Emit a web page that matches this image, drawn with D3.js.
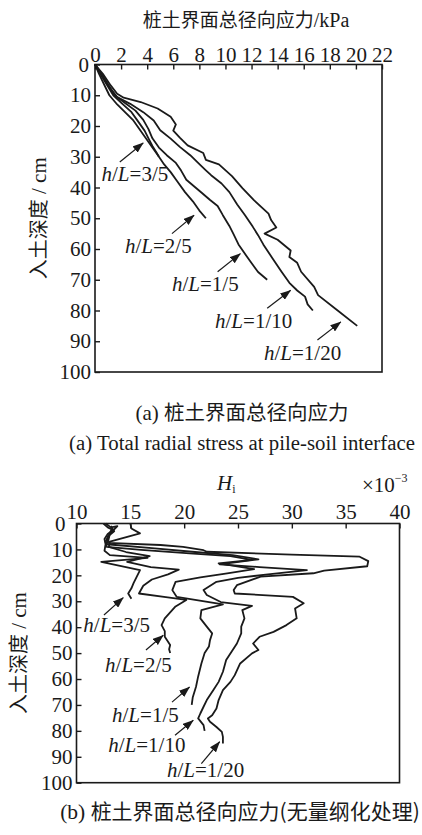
<!DOCTYPE html>
<html>
<head>
<meta charset="utf-8">
<script src="https://cdn.jsdelivr.net/npm/d3@7"></script>
<style>
body { margin: 0; background: #fff; }
text { font-family: "Liberation Serif", "Times New Roman", serif; fill: #1a1a1a; }
.cjk { font-family: "Noto Sans CJK SC", sans-serif; }
</style>
</head>
<body>
<svg id="fig" width="422" height="835"></svg>
<script>
// h/L ratios, same order for both panels
var ratioNames = ["3/5", "2/5", "1/5", "1/10", "1/20"];

var stressTicks = [0, 2, 4, 6, 8, 10, 12, 14, 16, 18, 20, 22];
var depthTicks = [0, 10, 20, 30, 40, 50, 60, 70, 80, 90, 100];
var hiTicks = [10, 15, 20, 25, 30, 35, 40];

// (a) total radial stress, kPa  -> [stress, depth cm]
var stress35 = [[0,0],[0.4,3],[0.9,6.5],[1.4,10],[2.1,12.8],[2.8,15.5],[3.3,18.5],[3.8,21.5],[4.1,24],[4.4,26.5],[4.7,28.5],[4.9,30]];
var stress25 = [[0,0],[0.3,3],[0.7,6.5],[1.1,10],[1.7,13],[2.3,15.5],[2.9,18],[3.4,21],[3.9,24],[4.4,27],[4.9,30],[5.3,32.5],[5.8,35],[6.3,38],[6.9,41.5],[7.5,44.5],[8.0,47.5],[8.5,50]];
var stress15 = [[0,0],[0.5,3],[1.0,6.5],[1.5,10],[2.3,12.5],[3.1,15],[3.7,18],[4.1,21],[4.4,24],[4.9,27],[5.5,29.5],[6.2,32],[6.6,34.5],[7.0,37.5],[7.7,40],[8.2,41.8],[8.8,44],[9.4,46],[9.8,49],[10.3,52.5],[10.6,55],[11.0,58.5],[11.4,61],[11.9,64],[12.5,67.5],[13.2,70]];
var stress110 = [[0,0],[0.4,2.5],[1.0,6.8],[1.7,10.6],[2.7,12.8],[3.7,15.5],[4.5,18.2],[5.0,21.4],[5.8,24.1],[6.5,26.8],[7.3,29.5],[8.1,32.8],[8.5,34.4],[8.9,36],[9.7,38.7],[10.3,41.5],[10.9,45.5],[11.5,49],[12.1,52.8],[12.5,55.5],[12.9,58.5],[13.6,63],[14.3,67.4],[14.9,71],[15.5,73.5],[16.1,75.5],[16.3,78],[16.7,80]];
var stress120 = [[0,0],[0.6,3],[1.2,6.8],[1.7,9.5],[2.2,10.8],[3.5,12.2],[4.8,14.3],[5.8,17],[6.2,19.5],[6.0,21.5],[6.5,23.8],[7.1,26.3],[8.3,28.8],[8.5,31],[9.5,32.5],[10.5,36.3],[11.3,40.2],[12.2,44.2],[13.3,48.5],[13.5,50.6],[13.9,53],[13.0,55],[14.0,57],[15.0,60.5],[14.9,62.6],[15.5,64.5],[15.8,67.4],[16.8,72.3],[17.1,75],[18.6,80],[20.1,85]];

// (b) dimensionless H_i (x10^-3) -> [Hi, depth cm]
var hi35 = [[12.5,0],[12.9,1.5],[13.4,2.5],[12.9,4],[12.6,6],[12.7,8],[12.6,10.5],[13.1,12.2],[16.6,13.3],[12.3,14.8],[15.9,18],[15.6,20.5],[15.3,23],[15.1,25],[14.8,27],[15.1,29]];
var hi25 = [[15.0,0],[15.1,1.9],[15.9,3.8],[14.8,5.1],[13.1,7],[13.0,9],[14.6,11],[16.8,12.6],[14.7,14.8],[16.9,16.8],[19.5,17.8],[18.5,19.6],[17.0,21.6],[16.2,24],[15.8,27],[18.3,28.4],[20.2,29.5],[19.2,32],[18.2,36.6],[17.9,39.2],[18.2,41.5],[18.2,43.7],[18.7,46.9],[18.6,48.5],[18.7,50]];
var hi15 = [[13.3,2],[13.0,4.5],[12.7,7],[12.8,9],[16,10.2],[20.5,11.5],[24.3,12.6],[26.3,14],[23.2,15.4],[26.5,17.6],[24.0,19.2],[21.5,20.8],[19.2,22.5],[18.9,25.7],[19.3,28.3],[23.6,31.2],[21.6,33.4],[21.5,36.6],[22.1,39.8],[22.6,42.4],[22.4,45],[22.3,47.5],[21.9,50],[21.6,54],[21.3,59],[21.1,63],[20.8,67],[20.7,70]];
var hi110 = [[13.2,1],[13.5,3],[12.9,5],[12.8,8],[17,9.5],[21,11],[24.5,12.2],[26.9,13.8],[23.3,15.8],[27.0,16.8],[31.4,18],[28.0,19.5],[25.0,21],[23.0,22.5],[21.8,25.7],[22.1,27.6],[23.4,30.3],[26.3,31.8],[25.4,33.4],[25.6,36.6],[25.3,39.8],[25.3,42.4],[24.9,46.3],[24.4,49.5],[23.9,52.7],[23.6,57.2],[23.2,61.1],[22.7,64.3],[22.1,68.1],[21.8,70.7],[21.5,73.3],[21.3,75.2],[21.8,77.8],[21.9,80]];
var hi120 = [[12.7,0],[13.2,1.5],[13.8,1],[13.1,4],[12.9,7.5],[17.8,8.3],[19.9,9.0],[21.8,10.3],[22.1,10.9],[30,12],[36.3,12.8],[37.1,14.5],[37.0,16.5],[33,18.2],[32.0,19.2],[27.1,20.5],[24.9,23.8],[24.6,25.7],[24.7,27],[30.1,28.3],[31.1,30.8],[30.3,32.8],[30.45,36.6],[29.5,39.2],[28.3,41.8],[27.0,43.7],[26.4,46.3],[26.9,48.8],[26.3,50.1],[25.2,54],[24.7,58.5],[24.3,61.1],[23.6,64.3],[23.2,68.1],[23.0,71.4],[22.6,74],[22.2,75.2],[22.4,76.5],[23.0,78.5],[23.5,80.4],[23.6,82.3],[23.6,84.9]];

// where the h/L labels sit, in data units: text corner, arrow tail, arrow tip
var labelsA = [
  { t: [0.5, 38.0],  a: [1.9, 31.7],  b: [3.7, 25.5] },
  { t: [2.3, 61.4],  a: [5.9, 55.0],  b: [7.6, 49.0] },
  { t: [5.9, 73.7],  a: [9.4, 67.4],  b: [11.15, 61.5] },
  { t: [9.2, 85.7],  a: [13.2, 79.3], b: [15.0, 73.4] },
  { t: [12.95, 96.1],a: [17.05, 89.6],b: [18.85, 83.7] }
];
var labelsB = [
  { t: [10.63, 41.9], a: [12.55, 35.3], b: [14.35, 28.6] },
  { t: [12.65, 57.3], a: [16.45, 48.8], b: [18.06, 43.1] },
  { t: [13.3, 76.6],  a: [18.87, 68.9], b: [20.5, 63.1] },
  { t: [12.95, 88.2], a: [19.15, 81.7], b: [20.85, 75.9] },
  { t: [18.4, 97.9],  a: [21.6, 92.6],  b: [23.3, 84.2] }
];

var ink = "#1a1a1a";
var svg = d3.select("#fig");

svg.append("defs").append("marker")
  .attr("id", "head")
  .attr("markerUnits", "userSpaceOnUse")
  .attr("viewBox", "0 0 11 8")
  .attr("refX", 10.5).attr("refY", 4)
  .attr("markerWidth", 11).attr("markerHeight", 8)
  .attr("orient", "auto")
  .append("path")
  .attr("d", "M0,0 L11,4 L0,8 Z")
  .attr("fill", ink);

function drawPanel(p) {
  var x = d3.scaleLinear().domain(p.xDomain).range(p.xRange);
  var y = d3.scaleLinear().domain([0, 100]).range(p.yRange);
  var g = svg.append("g");

  var top = g.append("g")
    .attr("transform", "translate(0," + p.yRange[0] + ")")
    .call(d3.axisTop(x).tickValues(p.xTicks).tickSizeInner(-5).tickSizeOuter(0).tickPadding(p.topPad));
  var left = g.append("g")
    .attr("transform", "translate(" + p.xRange[0] + ",0)")
    .call(d3.axisLeft(y).tickValues(depthTicks).tickSizeInner(-5).tickSizeOuter(0).tickPadding(4));
  [top, left].forEach(function(ax) {
    ax.select(".domain").remove();
    ax.selectAll("line").attr("stroke", ink).attr("stroke-width", 1.4);
    ax.selectAll("text").attr("font-size", 21).attr("fill", ink);
  });
  // the corner "0" is tucked left, clear of the first top label
  left.selectAll("text").filter(function(d) { return d === 0; })
    .attr("x", -4 - p.zeroShift);

  g.append("rect")
    .attr("x", p.xRange[0]).attr("y", p.yRange[0])
    .attr("width", p.xRange[1] - p.xRange[0])
    .attr("height", p.yRange[1] - p.yRange[0])
    .attr("fill", "none").attr("stroke", ink).attr("stroke-width", 1.6);

  var line = d3.line().x(function(d) { return x(d[0]); }).y(function(d) { return y(d[1]); });
  g.selectAll(".curve")
    .data(p.series)
    .enter()
    .append("path")
    .attr("class", "curve")
    .attr("d", line)
    .attr("fill", "none")
    .attr("stroke", ink)
    .attr("stroke-width", 1.8)
    .attr("stroke-linejoin", "round");

  g.selectAll(".arrow")
    .data(p.labels)
    .enter()
    .append("line")
    .attr("class", "arrow")
    .attr("x1", function(d) { return x(d.a[0]); })
    .attr("y1", function(d) { return y(d.a[1]); })
    .attr("x2", function(d) { return x(d.b[0]); })
    .attr("y2", function(d) { return y(d.b[1]); })
    .attr("stroke", ink).attr("stroke-width", 1.2)
    .attr("marker-end", "url(#head)");

  var lab = g.selectAll(".hl")
    .data(p.labels)
    .enter()
    .append("text")
    .attr("class", "hl")
    .attr("font-size", 21)
    .attr("x", function(d) { return x(d.t[0]); })
    .attr("y", function(d) { return y(d.t[1]); });
  lab.append("tspan").attr("font-style", "italic").text("h");
  lab.append("tspan").text("/");
  lab.append("tspan").attr("font-style", "italic").text("L");
  lab.append("tspan").text(function(d, i) { return "=" + ratioNames[i]; });

  // vertical axis title
  var yt = g.append("text")
    .attr("transform", "translate(" + p.yTitleX + "," + ((p.yRange[0] + p.yRange[1]) / 2) + ") rotate(-90)")
    .attr("text-anchor", "middle")
    .attr("font-size", 21);
  yt.append("tspan").attr("class", "cjk").attr("font-size", 20).text("入土深度");
  yt.append("tspan").text(" / cm");
}

drawPanel({
  xDomain: [0, 22], xRange: [95, 382], yRange: [64.5, 372],
  xTicks: stressTicks, topPad: 3, zeroShift: 2,
  series: [stress35, stress25, stress15, stress110, stress120],
  labels: labelsA, yTitleX: 46
});

drawPanel({
  xDomain: [10, 40], xRange: [76.5, 399.5], yRange: [523.5, 782.7],
  xTicks: hiTicks, topPad: 5, zeroShift: 7,
  series: [hi35, hi25, hi15, hi110, hi120],
  labels: labelsB, yTitleX: 26
});

// titles and captions
var t1 = svg.append("text").attr("x", 246).attr("y", 27).attr("text-anchor", "middle").attr("font-size", 20);
t1.append("tspan").attr("class", "cjk").attr("font-size", 19).text("桩土界面总径向应力");
t1.append("tspan").text("/kPa");

var c1 = svg.append("text").attr("x", 242).attr("y", 420).attr("text-anchor", "middle").attr("font-size", 21);
c1.append("tspan").text("(a) ");
c1.append("tspan").attr("class", "cjk").attr("font-size", 20.5).text("桩土界面总径向应力");

svg.append("text").attr("x", 242).attr("y", 450).attr("text-anchor", "middle")
  .attr("font-size", 20.8).text("(a) Total radial stress at pile-soil interface");

var hl = svg.append("text").attr("x", 217).attr("y", 490).attr("font-size", 21);
hl.append("tspan").attr("font-style", "italic").text("H");
hl.append("tspan").attr("font-size", 12).attr("dy", 3).text("i");

var ex = svg.append("text").attr("x", 362).attr("y", 492).attr("font-size", 21);
ex.append("tspan").text("×10");
ex.append("tspan").attr("font-size", 12).attr("dy", -10).text("−3");

var c2 = svg.append("text").attr("x", 240).attr("y", 819).attr("text-anchor", "middle").attr("font-size", 21.5);
c2.append("tspan").text("(b) ");
c2.append("tspan").attr("class", "cjk").attr("font-size", 21).text("桩土界面总径向应力(无量纲化处理)");
</script>
</body>
</html>
